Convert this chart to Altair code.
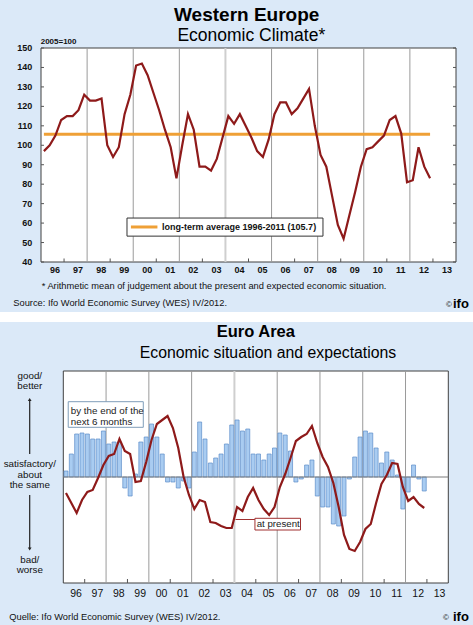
import altair as alt
import pandas as pd

BG = "#DBE9F8"
FONT = "Liberation Sans"
RED = "#8E1A1A"
ORANGE = "#EFA036"
GRID = "#9a9a9a"

# ---------------- data (quarterly, 1996Q1 - 2012Q4) ----------------
YEARS = list(range(1996, 2013))
climate = [97, 100, 105, 113, 115, 115, 118, 126, 123, 123, 124, 100,
           94, 99, 116, 126, 141, 142, 136, 127, 118, 108, 99, 83,
           100, 116, 108, 89, 89, 87, 93, 104, 115, 111, 116, 110,
           104, 97, 94, 103, 116, 122, 122, 116, 119, 124, 129, 110,
           95, 89, 74, 59, 52, 64, 76, 89, 98, 99, 102, 105,
           113, 115, 106, 81, 82, 99, 89, 83]
LONG_TERM_AVG = 105.7

expectations = [6, 23, 43, 44, 43, 38, 38, 46, 33, 35, 35, -11,
                -19, 3, 35, 40, 53, 40, 23, -5, -5, -11, -4, -11,
                25, 55, 38, 14, 19, 23, 33, 52, 57, 46, 48, 23,
                23, 17, 23, 29, 44, 42, 26, -5, -2, 12, 17, -19,
                -30, -30, -47, -49, -39, -2, 20, 40, 46, 44, 29, 14,
                25, 17, 2, -32, -15, 12, -2, -14]
present = [-16, -26, -36, -23, -15, -13, -1, 12, 21, 23, 38, 26,
           23, -5, -4, 15, 37, 53, 57, 61, 49, 29, 0, -18,
           -32, -23, -25, -45, -46, -49, -51, -51, -30, -34, -20, -11,
           -23, -32, -38, -30, -10, 3, 19, 36, 40, 43, 51, 34,
           20, 10, -6, -30, -58, -72, -74, -65, -52, -47, -26, -7,
           2, 14, 13, -10, -24, -20, -27, -31]

AXIS_YEARS = list(range(1996, 2014))
YEAR_LABELS = ["96", "97", "98", "99", "00", "01", "02", "03", "04",
               "05", "06", "07", "08", "09", "10", "11", "12", "13"]
GRID_YEARS = [1998, 2000, 2002, 2004, 2006, 2008, 2010, 2012]
TICK_YEARS = [1997, 1999, 2001, 2003, 2005, 2007, 2009, 2011, 2013]
Y_TICKS = [40, 50, 60, 70, 80, 90, 100, 110, 120, 130, 140, 150]

quarter_pos = [y + (q - 0.5) / 4 for y in YEARS for q in range(1, 5)]

df_top = pd.DataFrame({"t": quarter_pos, "v": climate,
                       "avg": [LONG_TERM_AVG] * len(quarter_pos)})
df_bot = pd.DataFrame({"t": quarter_pos, "e": expectations, "p": present})
df_lab = pd.DataFrame({"pos": [y + 0.5 for y in AXIS_YEARS], "lab": YEAR_LABELS})
df_grid = pd.DataFrame({"year": GRID_YEARS})
df_tick = pd.DataFrame({"year": TICK_YEARS})
df_yt = pd.DataFrame({"v": Y_TICKS})

CW, CH = 473, 625

XS1 = alt.Scale(domain=[1996, 2014], range=[41, 456], nice=False, zero=False)
YS1 = alt.Scale(domain=[40, 150], range=[262, 48], nice=False, zero=False)
XS2 = alt.Scale(domain=[1996, 2014], range=[58.3, 453.3], nice=False, zero=False)
YS2 = alt.Scale(domain=[-106, 106], range=[583, 371], nice=False, zero=False)


def one():
    return pd.DataFrame({"a": [0]})


def text(s, x, y, size, weight="normal", align="left", color="#111111"):
    return alt.Chart(pd.DataFrame({"s": [s]})).mark_text(
        font=FONT, fontSize=size, fontWeight=weight, align=align,
        baseline="alphabetic", color=color
    ).encode(x=alt.value(x), y=alt.value(y), text="s:N")


def prect(x, x2, y, y2, fill):
    return alt.Chart(one()).mark_rect(fill=fill).encode(
        x=alt.value(x), x2=alt.value(x2), y=alt.value(y), y2=alt.value(y2))


def frame(xs, ys, y0, y1):
    return alt.Chart(pd.DataFrame({"x1": [1996], "x2": [2014], "y1": [y0], "y2": [y1]})).mark_rect(
        fill="white", stroke="#404040", strokeWidth=1).encode(
        x=alt.X("x1:Q", scale=xs, axis=None), x2="x2:Q",
        y=alt.Y("y1:Q", scale=ys, axis=None), y2="y2:Q")


def grid_layer(xs, ys, y0, y1):
    d = df_grid.assign(y1=y0, y2=y1)
    return alt.Chart(d).mark_rule().encode(
        x=alt.X("year:Q", scale=xs, axis=None),
        y=alt.Y("y1:Q", scale=ys, axis=None), y2="y2:Q",
        color=alt.condition(alt.datum.year == 2004, alt.value("#cfcfcf"), alt.value(GRID)),
        strokeWidth=alt.condition(alt.datum.year == 2004, alt.value(2), alt.value(1)),
    )


# ---------------- top panel ----------------
top_layers = [
    frame(XS1, YS1, 40, 150),
    grid_layer(XS1, YS1, 40, 150),
    alt.Chart(df_tick.assign(y1=40, y2=41.8)).mark_rule(color="#555555").encode(
        x=alt.X("year:Q", scale=XS1, axis=None),
        y=alt.Y("y1:Q", scale=YS1, axis=None), y2="y2:Q"),
    alt.Chart(df_yt.assign(x1=1996, x2=1996.13)).mark_rule(color="#555555").encode(
        y=alt.Y("v:Q", scale=YS1, axis=None), x=alt.X("x1:Q", scale=XS1, axis=None), x2="x2:Q"),
    alt.Chart(df_yt.assign(x1=2013.87, x2=2014)).mark_rule(color="#555555").encode(
        y=alt.Y("v:Q", scale=YS1, axis=None), x=alt.X("x1:Q", scale=XS1, axis=None), x2="x2:Q"),
    alt.Chart(df_top).mark_line(color=ORANGE, strokeWidth=3).encode(
        x=alt.X("t:Q", scale=XS1, axis=None), y=alt.Y("avg:Q", scale=YS1, axis=None)),
    alt.Chart(df_top).mark_line(color=RED, strokeWidth=2.2).encode(
        x=alt.X("t:Q", scale=XS1, axis=None), y=alt.Y("v:Q", scale=YS1, axis=None)),
    # legend box
    alt.Chart(pd.DataFrame({"x1": [1999.73], "x2": [2008.23], "y1": [62.6], "y2": [53.3]}))
    .mark_rect(fill="white", stroke="#333333", strokeWidth=1).encode(
        x=alt.X("x1:Q", scale=XS1, axis=None), x2="x2:Q",
        y=alt.Y("y1:Q", scale=YS1, axis=None), y2="y2:Q"),
    alt.Chart(pd.DataFrame({"x1": [1999.9], "x2": [2001.05], "y": [58]}))
    .mark_rule(color=ORANGE, strokeWidth=3).encode(
        x=alt.X("x1:Q", scale=XS1, axis=None), x2="x2:Q",
        y=alt.Y("y:Q", scale=YS1, axis=None)),
    alt.Chart(pd.DataFrame({"x": [2001.25], "y": [58], "s": ["long-term average 1996-2011 (105.7)"]}))
    .mark_text(font=FONT, fontSize=9, fontWeight="bold", align="left", baseline="middle",
               color="#111111").encode(
        x=alt.X("x:Q", scale=XS1, axis=None), y=alt.Y("y:Q", scale=YS1, axis=None), text="s:N"),
    # axis labels
    alt.Chart(df_lab).mark_text(font=FONT, fontSize=9, fontWeight="bold", align="center",
                                baseline="alphabetic", dx=2.5, color="#111111").encode(
        x=alt.X("pos:Q", scale=XS1, axis=None), y=alt.value(272.7), text="lab:N"),
    alt.Chart(df_yt).mark_text(font=FONT, fontSize=9, fontWeight="bold", align="right",
                               baseline="middle", color="#111111").encode(
        x=alt.value(32.3), y=alt.Y("v:Q", scale=YS1, axis=None), text="v:Q"),
    # texts
    text("Western Europe", 246.7, 21, 19, "bold", "center", "#000000"),
    text("Economic Climate*", 251.3, 41, 17.5, "normal", "center", "#000000"),
    text("2005=100", 40.7, 44.3, 8, "bold"),
    text("* Arithmetic mean of judgement about the present and expected economic situation.",
         41.7, 289.2, 9.3),
    text("Source: Ifo World Economic Survey (WES) IV/2012.", 13.3, 306, 9.3),
    text("©", 446, 307, 8),
    text("ifo", 453, 308, 13, "bold", "left", "#000000"),
    prect(0, CW, 312, 322, "white"),
]
top = alt.layer(*top_layers)

# ---------------- bottom panel ----------------
bot_layers = [
    frame(XS2, YS2, -106, 106),
    grid_layer(XS2, YS2, -106, 106),
    alt.Chart(df_tick.assign(y1=-106, y2=-102)).mark_rule(color="#555555").encode(
        x=alt.X("year:Q", scale=XS2, axis=None),
        y=alt.Y("y1:Q", scale=YS2, axis=None), y2="y2:Q"),
    alt.Chart(df_bot.assign(z=0)).mark_bar(size=4, fill="#A9CCF1", stroke="#5B8DC8",
                                          strokeWidth=0.7).encode(
        x=alt.X("t:Q", scale=XS2, axis=None), y=alt.Y("e:Q", scale=YS2, axis=None),
        y2="z:Q"),
    alt.Chart(pd.DataFrame({"x1": [1996], "x2": [2014], "y": [0]})).mark_rule(color="#7a7a7a").encode(
        x=alt.X("x1:Q", scale=XS2, axis=None), x2="x2:Q", y=alt.Y("y:Q", scale=YS2, axis=None)),
    alt.Chart(df_bot).mark_line(color=RED, strokeWidth=2.2).encode(
        x=alt.X("t:Q", scale=XS2, axis=None), y=alt.Y("p:Q", scale=YS2, axis=None)),
    # annotation: by the end of the next 6 months
    alt.Chart(pd.DataFrame({"x1": [1996.23], "x2": [1999.74], "y1": [75.3], "y2": [49.7]}))
    .mark_rect(fill="white", stroke="#7F9DB9", strokeWidth=1).encode(
        x=alt.X("x1:Q", scale=XS2, axis=None), x2="x2:Q",
        y=alt.Y("y1:Q", scale=YS2, axis=None), y2="y2:Q"),
    alt.Chart(pd.DataFrame({"x": [1996.35, 1996.35], "y": [62.7, 52.0],
                            "s": ["by the end of the", "next 6 months"]}))
    .mark_text(font=FONT, fontSize=9.8, align="left", baseline="alphabetic", color="#222222").encode(
        x=alt.X("x:Q", scale=XS2, axis=None), y=alt.Y("y:Q", scale=YS2, axis=None), text="s:N"),
    # annotation: at present
    alt.Chart(pd.DataFrame({"x1": [2004.05], "x2": [2004.96], "y": [-42.5]}))
    .mark_rule(color="#A03030", strokeWidth=1).encode(
        x=alt.X("x1:Q", scale=XS2, axis=None), x2="x2:Q",
        y=alt.Y("y:Q", scale=YS2, axis=None)),
    alt.Chart(pd.DataFrame({"x1": [2004.96], "x2": [2007.09], "y1": [-41.3], "y2": [-53.0]}))
    .mark_rect(fill="white", stroke="#A03030", strokeWidth=1).encode(
        x=alt.X("x1:Q", scale=XS2, axis=None), x2="x2:Q",
        y=alt.Y("y1:Q", scale=YS2, axis=None), y2="y2:Q"),
    alt.Chart(pd.DataFrame({"x": [2005.04], "y": [-49.7], "s": ["at present"]}))
    .mark_text(font=FONT, fontSize=9.7, align="left", baseline="alphabetic", color="#222222").encode(
        x=alt.X("x:Q", scale=XS2, axis=None), y=alt.Y("y:Q", scale=YS2, axis=None), text="s:N"),
    # x labels
    alt.Chart(df_lab).mark_text(font=FONT, fontSize=10.5, align="center",
                                baseline="alphabetic", dx=2, color="#111111").encode(
        x=alt.X("pos:Q", scale=XS2, axis=None), y=alt.value(596.5), text="lab:N"),
    # left scale description
    text("good/", 29.8, 379, 9.8, "normal", "center"),
    text("better", 29.8, 389.3, 9.8, "normal", "center"),
    text("satisfactory/", 29.8, 467.3, 9.8, "normal", "center"),
    text("about", 29.8, 478.3, 9.8, "normal", "center"),
    text("the same", 29.8, 488.3, 9.8, "normal", "center"),
    text("bad/", 29.8, 563.3, 9.8, "normal", "center"),
    text("worse", 29.8, 573.3, 9.8, "normal", "center"),
    alt.Chart(one()).mark_rule(color="#222222", strokeWidth=1.2).encode(
        x=alt.value(29.7), y=alt.value(400), y2=alt.value(454)),
    alt.Chart(one()).mark_point(shape="triangle-up", filled=True, size=14, color="#222222",
                                opacity=1).encode(x=alt.value(29.7), y=alt.value(399.5)),
    alt.Chart(one()).mark_rule(color="#222222", strokeWidth=1.2).encode(
        x=alt.value(29.7), y=alt.value(495), y2=alt.value(548)),
    alt.Chart(one()).mark_point(shape="triangle-down", filled=True, size=14, color="#222222",
                                opacity=1).encode(x=alt.value(29.7), y=alt.value(549)),
    # titles and source
    text("Euro Area", 255.8, 336.7, 16.5, "bold", "center", "#000000"),
    text("Economic situation and expectations", 268, 358.3, 15.8, "normal", "center", "#000000"),
    text("Quelle: Ifo World Economic Survey (WES) IV/2012.", 9.3, 620, 9.3),
    text("©", 443, 620, 8),
    text("ifo", 453, 621, 13, "bold", "left", "#000000"),
]
bottom = alt.layer(*bot_layers)

chart = alt.layer(top, bottom).resolve_scale(
    x="independent", y="independent"
).properties(
    width=CW, height=CH, padding=0, background=BG
).configure_view(stroke="transparent", strokeWidth=0, fill=BG)

chart.save("out.html", embed_options={"renderer": "svg", "actions": False})
